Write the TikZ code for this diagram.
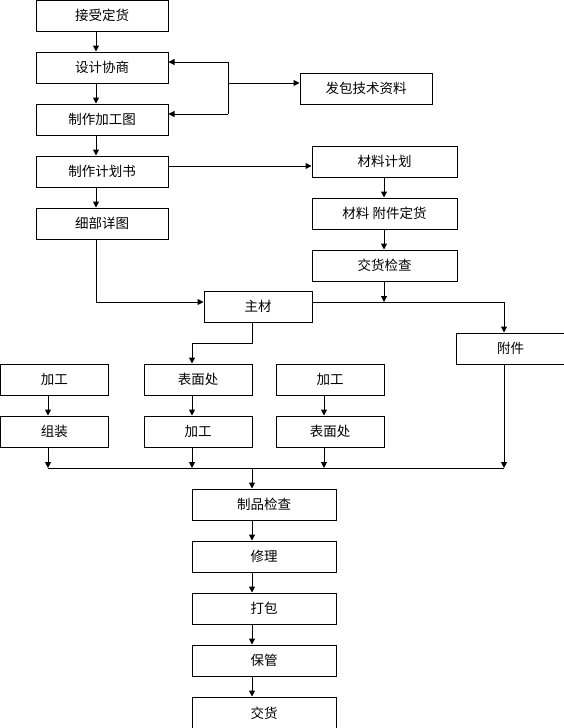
\documentclass[tikz,border=0pt]{standalone}
\usepackage{fontspec}
\newfontfamily\cjk{Noto Sans CJK SC}
\usetikzlibrary{arrows.meta,calc}
\tikzset{
  box/.style={draw=black,line width=1pt,fill=white,inner sep=0pt,font=\cjk\fontsize{13.5}{15}\selectfont},
  arr/.style={line width=1pt,-{Triangle[width=6pt,length=6pt]}},
  ln/.style={line width=1pt}
}
\newcommand{\bx}[6]{% name, x1, x2, y1, y2, text
  \node[box,minimum width={#3-#2},minimum height={#5-#4}] (#1) at ({(#2+#3)/2},{(#4+#5)/2}) {#6};}
\begin{document}
\begin{tikzpicture}[x=1pt,y=-1pt]
\useasboundingbox (0,0) rectangle (564,728);
\clip (0,0) rectangle (564,728);
\fill[white] (0,0) rectangle (564,728);
% left column
\bx{A}{36}{168}{0.5}{31}{接受定货}
\bx{B}{36}{168}{52}{83}{设计协商}
\bx{C}{36}{168}{104}{135}{制作加工图}
\bx{D}{36}{168}{156}{187}{制作计划书}
\bx{E}{36}{168}{208}{239}{细部详图}
% right column
\bx{F}{300}{432}{73}{104}{发包技术资料}
\bx{G}{312}{457}{146}{177}{材料计划}
\bx{H}{312}{457}{198}{229}{材料 附件定货}
\bx{I}{312}{457}{250}{281}{交货检查}
% middle
\bx{J}{204}{312}{291}{322}{主材}
\bx{K}{456}{565}{333}{364}{附件}
\bx{L1}{0.5}{108}{364}{395}{加工}
\bx{L2}{144}{252}{364}{395}{表面处}
\bx{L3}{276}{384}{364}{395}{加工}
\bx{M1}{0.5}{108}{416}{447}{组装}
\bx{M2}{144}{252}{416}{447}{加工}
\bx{M3}{276}{384}{416}{447}{表面处}
% bottom chain
\bx{N1}{192}{336}{489}{520}{制品检查}
\bx{N2}{192}{336}{541}{572}{修理}
\bx{N3}{192}{336}{593}{624}{打包}
\bx{N4}{192}{336}{645}{676}{保管}
\bx{N5}{192}{336}{697}{729.5}{交货}
% column coordinates
\coordinate (c1) at (96,0);
\coordinate (cr) at (384,0);
\coordinate (ck) at (504,0);
\coordinate (cb) at (252,0);
\coordinate (x1) at (48,0);
\coordinate (x2) at (192,0);
\coordinate (x3) at (324,0);
\coordinate (br) at (228,83);
\coordinate (brt) at (228,62);
\coordinate (brb) at (228,114);
\coordinate (ed) at (96,302);
\coordinate (jr) at (504,302);
\coordinate (jb) at (252,343);
\coordinate (jl) at (192,343);
\coordinate (bus) at (48,468);
\coordinate (busr) at (504,468);
\coordinate (busc) at (252,468);
\coordinate (dg) at (168,166);
% left chain
\draw[arr] (A.south -| c1) -- (B.north -| c1);
\draw[arr] (B.south -| c1) -- (C.north -| c1);
\draw[arr] (C.south -| c1) -- (D.north -| c1);
\draw[arr] (D.south -| c1) -- (E.north -| c1);
% bracket to 发包技术资料
\draw[ln] (brt) -- (brb);
\draw[arr] (brt) -- (brt -| B.east);
\draw[arr] (brb) -- (brb -| C.east);
\draw[arr] (br) -- (br -| F.west);
% 制作计划书 -> 材料计划
\draw[arr] (dg) -- (dg -| G.west);
\draw[arr] (G.south -| cr) -- (H.north -| cr);
\draw[arr] (H.south -| cr) -- (I.north -| cr);
\draw[arr] (I.south -| cr) -- (ed -| cr);
% 细部详图 -> 主材
\draw[arr] (E.south -| c1) -- (ed) -- (ed -| J.west);
% 主材 -> 附件
\draw[arr] (ed -| J.east) -- (jr) -- (K.north -| ck);
% 主材 -> 表面处
\draw[arr] (J.south -| jb) -- (jb) -- (jl) -- (L2.north -| x2);
% rows
\draw[arr] (L1.south -| x1) -- (M1.north -| x1);
\draw[arr] (L2.south -| x2) -- (M2.north -| x2);
\draw[arr] (L3.south -| x3) -- (M3.north -| x3);
\draw[arr] (M1.south -| x1) -- (bus -| x1);
\draw[arr] (M2.south -| x2) -- (bus -| x2);
\draw[arr] (M3.south -| x3) -- (bus -| x3);
\draw[arr] (K.south -| ck) -- (busr);
\draw[ln] (bus) -- (busr);
\draw[arr] (busc) -- (N1.north -| cb);
\draw[arr] (N1.south -| cb) -- (N2.north -| cb);
\draw[arr] (N2.south -| cb) -- (N3.north -| cb);
\draw[arr] (N3.south -| cb) -- (N4.north -| cb);
\draw[arr] (N4.south -| cb) -- (N5.north -| cb);
\end{tikzpicture}
\end{document}
